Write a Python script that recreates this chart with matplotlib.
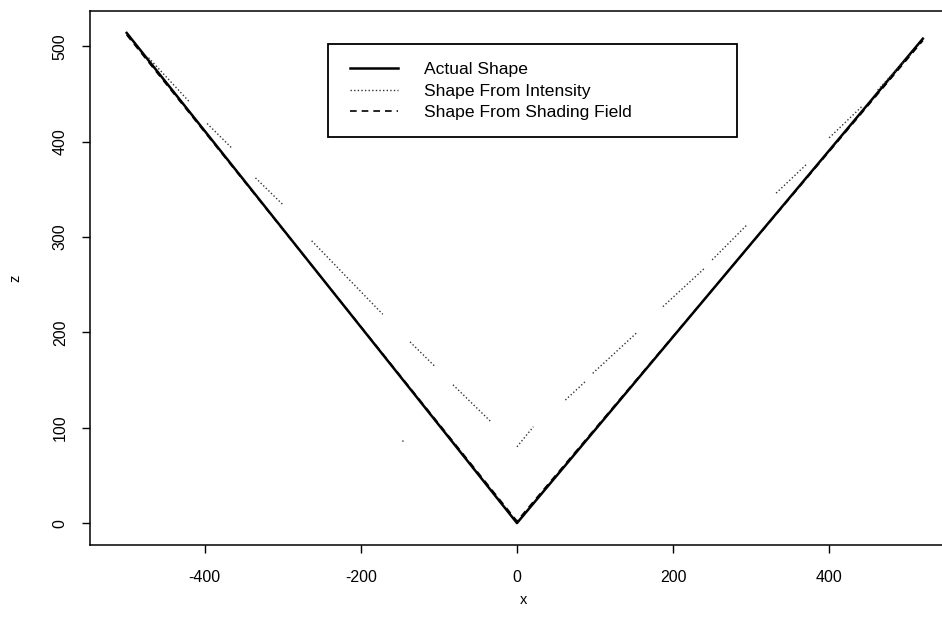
import numpy as np
import matplotlib
matplotlib.use('Agg')
import matplotlib.pyplot as plt
from matplotlib.patches import Rectangle

plt.rcParams['font.family'] = ['Liberation Sans', 'DejaVu Sans']
plt.rcParams['axes.unicode_minus'] = False

# actual V-shaped profile
actual_x = [-500, 0, 520]
actual_z = [514, 0, 508]

# shape from shading field (lies on top of the actual shape)
field_x = [-500, 0, 520]
field_z = [512, 2, 506]

# shape from intensity: broken dotted trace, NaN marks the gaps
intens_x = [-472, -420, np.nan, -397, -365, np.nan, -335, -300, np.nan,
            -263, -172, np.nan, -137, -106, np.nan, -82, -33, np.nan,
            -147, -145, np.nan,
            0, 21, np.nan, 62, 87, np.nan, 97, 154, np.nan, 187, 240, np.nan,
            250, 295, np.nan, 332, 372, np.nan, 400, 442, np.nan, 462, 505]
intens_z = [488, 442, np.nan, 419, 393, np.nan, 362, 334, np.nan,
            296, 219, np.nan, 190, 165, np.nan, 145, 106, np.nan,
            86, 86, np.nan,
            80, 101, np.nan, 129, 148, np.nan, 157, 200, np.nan, 227, 267, np.nan,
            276, 313, np.nan, 346, 377, np.nan, 404, 437, np.nan, 454, 492]

x_ticks = [-400, -200, 0, 200, 400]
z_ticks = [0, 100, 200, 300, 400, 500]

W, H = 942, 629
fig = plt.figure(figsize=(W / 100, H / 100), dpi=100)
# right edge of the plot box falls just outside the page, as in the scan
ax = fig.add_axes([90 / W, 84 / H, (958 - 90) / W, (545 - 11) / H])

ax.plot(actual_x, actual_z, color='black', lw=1.8, label='Actual Shape')
ax.plot(intens_x, intens_z, color='#333333', lw=1.0, ls=(0, (1, 1.6)),
        label='Shape From Intensity')
ax.plot(field_x, field_z, color='black', lw=1.2, ls=(0, (4, 3)),
        label='Shape From Shading Field')

ax.set_xlim(-547, 565)
ax.set_ylim(-23, 537)
ax.set_xticks(x_ticks)
ax.set_yticks(z_ticks)
ax.tick_params(direction='out', length=6, width=1, labelsize=11.5, colors='black')
ax.tick_params(axis='x', pad=12)
ax.tick_params(axis='y', pad=10)
for lbl in ax.get_yticklabels():
    lbl.set_rotation(90)
    lbl.set_va('center')
for s in ax.spines.values():
    s.set_linewidth(1.1)

ax.set_xlabel('x', fontsize=10.5, labelpad=6)
ax.set_ylabel('z', fontsize=10.5, labelpad=22)

# legend entries without frame, box drawn separately to get R's wide padding
leg = ax.legend(loc='upper left', bbox_to_anchor=(350 / W, 1 - 62 / H),
                bbox_transform=fig.transFigure, frameon=False, fontsize=12.6,
                handlelength=2.75, handletextpad=1.45, borderpad=0,
                labelspacing=0.36, borderaxespad=0)
fig.patches.append(Rectangle((328 / W, 1 - 137 / H), (737 - 328) / W, (137 - 44) / H,
                             transform=fig.transFigure, fill=False,
                             edgecolor='black', linewidth=1.3, zorder=5))

fig.savefig('out.png', dpi=100, facecolor='white')
